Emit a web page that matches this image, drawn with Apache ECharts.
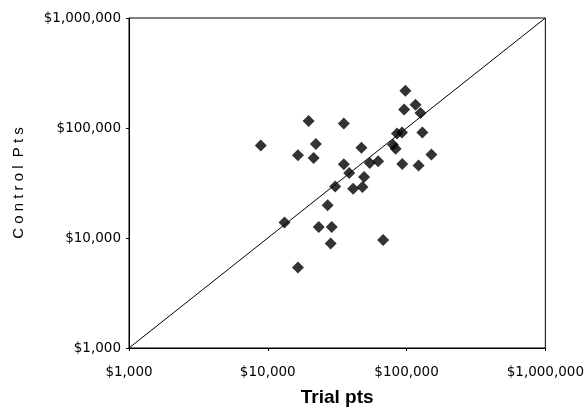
<!DOCTYPE html>
<html>
<head>
<meta charset="utf-8">
<script src="https://cdn.jsdelivr.net/npm/echarts@6/dist/echarts.min.js"></script>
<style>html,body{margin:0;padding:0;background:#fff}#c{width:587px;height:416px}</style>
</head>
<body>
<div id="c"></div>
<script>
// Trial pts (x) and Control Pts (y)
const trialPts = [98000,116000,96000,126000,19700,35300,130000,85300,92700,8900,22200,47300,79800,83500,151000,16500,21400,35300,54300,62400,93100,122000,38600,49400,30600,41200,48100,27000,13200,23300,28900,28400,67800,16500];
const controlPts = [218000,163000,147000,137000,116000,110000,90800,88900,90800,69200,71600,66200,70600,64600,57300,56400,53500,46900,48100,49800,47100,45500,39000,35900,29400,28100,29100,19800,13800,12600,12600,8900,9600,5400];
const axisTicks = [1000,10000,100000,1000000];
const diagonal = [[1000,1000],[1000000,1000000]];

function money(v){return '$' + Math.round(v).toString().replace(/\B(?=(\d{3})+(?!\d))/g, ',');}

const chart = echarts.init(document.getElementById('c'), null, {renderer:'canvas'});
const labelFont = '"DejaVu Sans", sans-serif';
const titleFont = '"Liberation Sans", Arial, sans-serif';
const axisCommon = {
  type:'log', logBase:10, min:axisTicks[0], max:axisTicks[axisTicks.length-1],
  axisLine:{show:true, lineStyle:{color:'#000', width:1}},
  axisTick:{show:true, length:3, lineStyle:{color:'#000'}},
  splitLine:{show:false},
  minorTick:{show:false},
  axisLabel:{color:'#000', fontFamily:labelFont, fontSize:13.5, formatter:money},
  nameLocation:'middle'
};
chart.setOption({
  animation:false,
  backgroundColor:'#fff',
  grid:{left:129, right:40, top:18, bottom:68, show:true, borderColor:'#000', borderWidth:1},
  xAxis:Object.assign({}, axisCommon, {
    name:'Trial pts', nameGap:40,
    nameTextStyle:{color:'#000', fontFamily:titleFont, fontSize:19, fontWeight:'bold'},
    axisLabel:Object.assign({}, axisCommon.axisLabel, {margin:17})
  }),
  yAxis:Object.assign({}, axisCommon, {
    name:'C o n t r o l  P t s', nameGap:103,
    nameTextStyle:{color:'#000', fontFamily:titleFont, fontSize:15},
    axisLabel:Object.assign({}, axisCommon.axisLabel, {margin:8})
  }),
  series:[
    {type:'line', data:diagonal, symbol:'none', lineStyle:{color:'#000', width:1}, silent:true},
    {type:'scatter', data:trialPts.map((x,i)=>[x, controlPts[i]]), symbol:'diamond', symbolSize:12,
     itemStyle:{color:'#000'}}
  ]
});
</script>
</body>
</html>
